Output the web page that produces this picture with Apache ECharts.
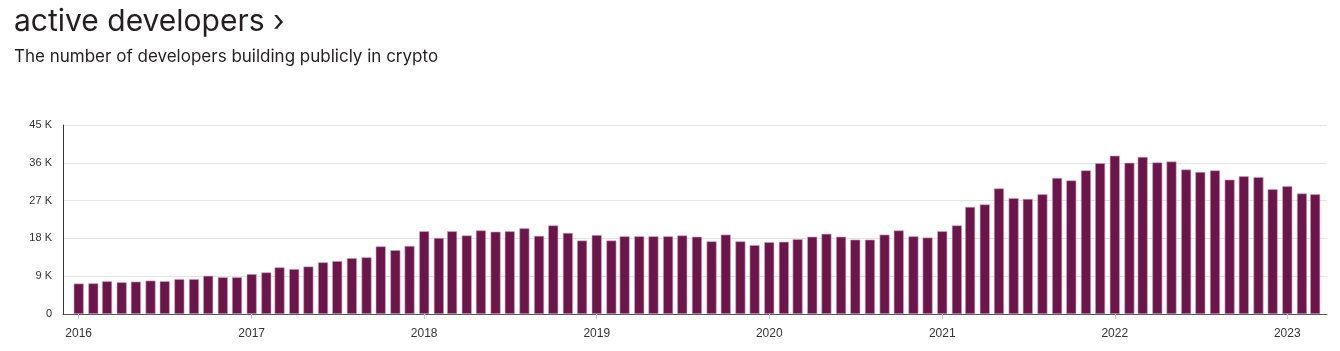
<!DOCTYPE html>
<html>
<head>
<meta charset="utf-8">
<script src="https://cdn.jsdelivr.net/npm/echarts@6/dist/echarts.min.js"></script>
<style>
  html, body { margin: 0; padding: 0; background: #fff; }
  #main { width: 1340px; height: 351px; }
</style>
</head>
<body>
<div id="main"></div>
<script>
// monthly active developers, Jan 2016 .. Mar 2023
var years = ['2016', '2017', '2018', '2019', '2020', '2021', '2022', '2023'];
var dev2016 = [7250, 7300, 7800, 7550, 7700, 7950, 7800, 8300, 8300, 9100, 8750, 8750];
var dev2017 = [9500, 9900, 11100, 10700, 11300, 12300, 12600, 13300, 13500, 16100, 15200, 16200];
var dev2018 = [19700, 18100, 19700, 18700, 19900, 19600, 19700, 20400, 18600, 21100, 19300, 17500];
var dev2019 = [18800, 17500, 18500, 18500, 18500, 18500, 18700, 18400, 17300, 18900, 17300, 16400];
var dev2020 = [17100, 17200, 17800, 18400, 19100, 18400, 17700, 17700, 18900, 19900, 18500, 18200];
var dev2021 = [19700, 21100, 25500, 26100, 29900, 27600, 27400, 28500, 32400, 31800, 34200, 35900];
var dev2022 = [37700, 36000, 37400, 36100, 36300, 34400, 33800, 34200, 32000, 32800, 32600, 29700];
var dev2023 = [30400, 28700, 28500];
var yTicks = [0, 9000, 18000, 27000, 36000, 45000];

window.addEventListener('load', function () {
    var chart = echarts.init(document.getElementById('main'));
    var perYear = [dev2016, dev2017, dev2018, dev2019, dev2020, dev2021, dev2022, dev2023];
    var data = [];
    for (var i = 0; i < years.length; i++) {
        for (var m = 0; m < perYear[i].length; m++) {
            var mm = m + 1 < 10 ? '0' + (m + 1) : '' + (m + 1);
            data.push([years[i] + '-' + mm + '-01', perYear[i][m]]);
        }
    }

    var option = {
        animation: false,
        title: {
            text: 'active developers ›',
            subtext: 'The number of developers building publicly in crypto',
            left: 9,
            top: 2,
            itemGap: 11,
            textStyle: {
                fontFamily: 'Inter',
                fontSize: 30,
                fontWeight: 'normal',
                color: '#231f20'
            },
            subtextStyle: {
                fontFamily: 'Inter',
                fontSize: 17,
                color: '#231f20'
            }
        },
        grid: {
            left: 63,
            right: 13,
            top: 125,
            bottom: 37
        },
        xAxis: {
            type: 'time',
            // bars widen the time extent by half a bar on each side
            min: '2015-12-09 10:00',
            max: '2023-03-15 10:00',
            minInterval: 365 * 24 * 3600 * 1000,
            maxInterval: 366 * 24 * 3600 * 1000,
            axisLine: { show: true, lineStyle: { color: '#555', width: 1 } },
            axisTick: { show: true, length: 5, lineStyle: { color: '#ccc' } },
            splitLine: { show: false },
            axisLabel: {
                formatter: '{yyyy}',
                showMinLabel: false,
                showMaxLabel: false,
                color: '#333',
                fontFamily: 'Liberation Sans',
                fontSize: 12,
                margin: 14
            }
        },
        yAxis: {
            type: 'value',
            min: yTicks[0],
            max: yTicks[yTicks.length - 1],
            interval: 9000,
            axisLine: { show: true, lineStyle: { color: '#333', width: 1 } },
            axisTick: { show: false },
            splitLine: { lineStyle: { color: '#e4e4e4', width: 1 } },
            axisLabel: {
                formatter: function (v) {
                    return v === 0 ? '0' : (v / 1000) + ' K';
                },
                color: '#333',
                fontFamily: 'Liberation Sans',
                fontSize: 11,
                margin: 11
            }
        },
        series: [{
            name: 'active developers',
            type: 'bar',
            data: data,
            barWidth: 10,
            itemStyle: {
                color: '#6b154b',
                borderColor: '#c9a6b9',
                borderWidth: 0.6
            }
        }]
    };
    chart.setOption(option);
});
</script>
</body>
</html>
